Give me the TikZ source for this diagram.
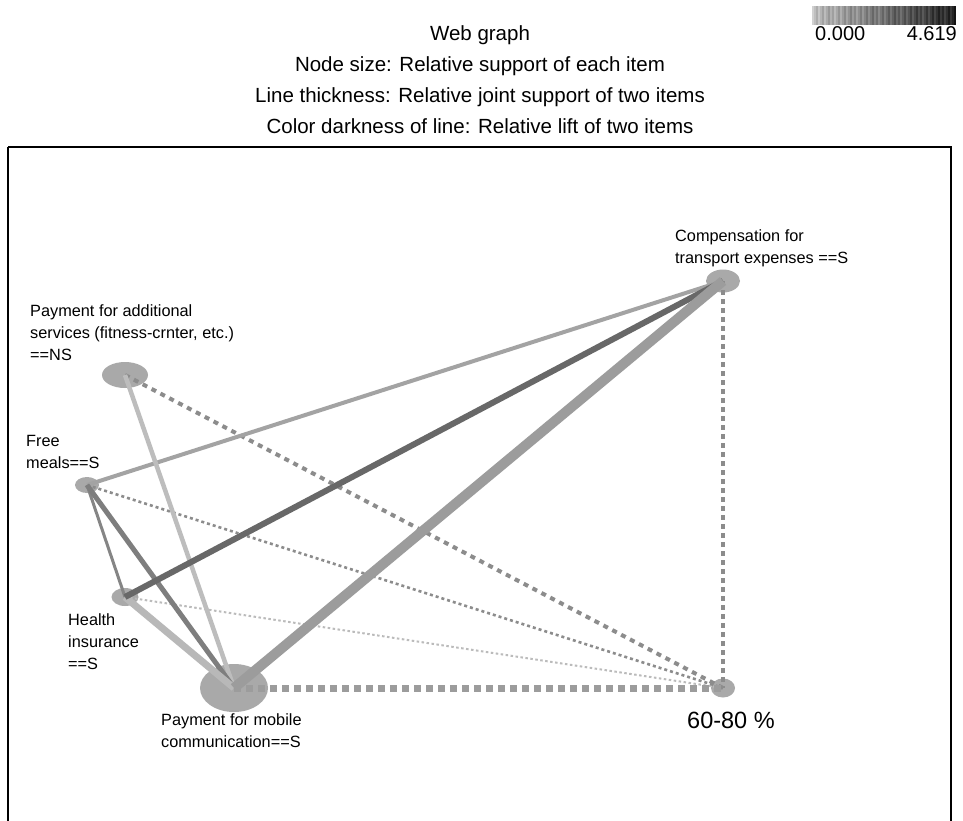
\documentclass[tikz,border=0pt]{standalone}
\usepackage{fontspec}
\setmainfont{Liberation Sans}
\usetikzlibrary{shapes.geometric}
\definecolor{nodegray}{HTML}{A9A9A9}
\definecolor{gA}{HTML}{9C9C9C}
\definecolor{gB}{HTML}{686868}
\definecolor{gC}{HTML}{A3A3A3}
\definecolor{gD}{HTML}{BDBDBD}
\definecolor{gE}{HTML}{B8B8B8}
\definecolor{gF}{HTML}{858585}
\definecolor{gG}{HTML}{7E7E7E}
\definecolor{gDot}{HTML}{8C8C8C}
\definecolor{gDotL}{HTML}{BBBBBB}
\begin{document}
\begin{tikzpicture}[x=1pt,y=-1pt,
  item/.style={ellipse, fill=nodegray, draw=none, inner sep=0pt},
  lbl/.style={anchor=north west, inner sep=0pt, align=left, font=\fontsize{16.3}{22}\selectfont},
  edge/.style={line cap=butt}]
\useasboundingbox (0,0) rectangle (963,820);
\fill[white] (0,0) rectangle (963,820);
% title
\node[anchor=north, inner sep=0pt, align=center, font=\fontsize{20.5}{31}\selectfont] (title) at (480,25)
  {Web graph\\Node size: Relative support of each item\\Line thickness: Relative joint support of two items\\Color darkness of line: Relative lift of two items};
% legend
\node[anchor=base west, inner sep=0pt, font=\fontsize{20}{24}\selectfont] (lmin) at (815,40) {0.000};
\node[anchor=base east, inner sep=0pt, font=\fontsize{20}{24}\selectfont] (lmax) at (957,40) {4.619};
\foreach \i in {0,...,71}{
  \pgfmathsetmacro{\lev}{18+\i*0.85+mod(\i*37,11)*1.6}
  \fill[black!\lev] (812+2*\i,6) rectangle (814+2*\i,25);
}
% frame
\begin{scope}
\clip (0,0) rectangle (963,820);
\draw[line width=2pt] (8,147) -- (951,147) -- (951,830);
\draw[line width=2pt] (8,147) -- (8,830);
\end{scope}
% nodes
\node[item, minimum width=34, minimum height=23] (comp) at (723,281) {};
\node[item, minimum width=46, minimum height=26] (add) at (125,375) {};
\node[item, minimum width=24, minimum height=16] (free) at (87,485) {};
\node[item, minimum width=27, minimum height=18] (health) at (125,597) {};
\node[item, minimum width=68, minimum height=48] (mob) at (234,688) {};
\node[item, minimum width=24, minimum height=19] (pct) at (723,688) {};
% labels
\node[lbl] (tcomp) at (675,229) {Compensation for\\transport expenses ==S};
\node[lbl] (tadd) at (30,304) {Payment for additional\\services (fitness-crnter, etc.)\\==NS};
\node[lbl] (tfree) at (26,435) {Free\\meals==S};
\node[lbl] (thealth) at (68,613) {Health\\insurance\\==S};
\node[lbl] (tmob) at (161,713) {Payment for mobile\\communication==S};
\node[anchor=north west, inner sep=0pt, font=\fontsize{23.5}{28}\selectfont] (tpct) at (687,712) {60-80 \%};
% edges (dotted, to 60-80 %)
\draw[edge, gDotL, line width=2, dash pattern=on 2.5 off 2.5] (health.center) -- (pct.center);
\draw[edge, gDot, line width=2.6, dash pattern=on 3 off 3] (free.center) -- (pct.center);
\draw[edge, gDot, line width=4, dash pattern=on 5 off 5] (add.center) -- (pct.center);
\draw[edge, gDot, line width=4, dash pattern=on 5 off 4] (comp.center) -- (pct.center);
\draw[edge, gA, line width=7, dash pattern=on 7 off 5] (mob.center) -- (pct.center);
% solid edges
\draw[edge, gC, line width=4] (free.center) -- (comp.center);
\draw[edge, gD, line width=4.5] (add.center) -- (mob.center);
\draw[edge, gF, line width=3] (free.center) -- (health.center);
\draw[edge, gG, line width=5] (free.center) -- (mob.center);
\draw[edge, gE, line width=7] (health.center) -- (mob.center);
\draw[edge, gB, line width=6] (health.center) -- (comp.center);
\draw[edge, gA, line width=10] (mob.center) -- (comp.center);
\end{tikzpicture}
\end{document}
